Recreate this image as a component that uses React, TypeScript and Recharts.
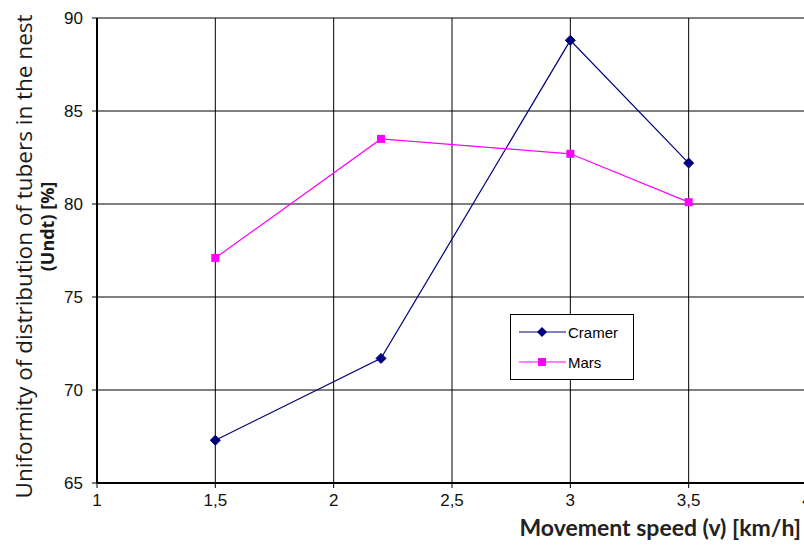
import React from "react"
import {
  LineChart,
  Line,
  XAxis,
  YAxis,
  CartesianGrid,
  Label,
} from "recharts"

// speeds (km/h) and uniformity values (%)
const speeds = [1.5, 2.2, 3, 3.5]
const cramer = [67.3, 71.7, 88.8, 82.2]
const mars = [77.1, 83.5, 82.7, 80.1]
const xTicks = [1, 1.5, 2, 2.5, 3, 3.5, 4]
const yTicks = [65, 70, 75, 80, 85, 90]

const data = speeds.map((v, i) => ({ v, cramer: cramer[i], mars: mars[i] }))

const NAVY = "#000080"
const MAGENTA = "#FF00FF"

const Diamond = (props: any) => {
  const { cx, cy } = props
  if (cx == null || cy == null) return null
  const r = 5
  return (
    <polygon
      key={`d-${cx}`}
      points={`${cx},${cy - r} ${cx + r},${cy} ${cx},${cy + r} ${cx - r},${cy}`}
      fill={NAVY}
      stroke={NAVY}
    />
  )
}

const Square = (props: any) => {
  const { cx, cy } = props
  if (cx == null || cy == null) return null
  return <rect key={`s-${cx}`} x={cx - 4} y={cy - 4} width={8} height={8} fill={MAGENTA} />
}

const legendItems = [
  { name: "Cramer", color: NAVY, shape: "d" },
  { name: "Mars", color: MAGENTA, shape: "s" },
]

// legend box sits over the plot, drawn outside recharts so it takes no layout space
const LegendBox = () => (
  <div
    style={{
      position: "absolute",
      left: 510,
      top: 314,
      width: 122,
      height: 64,
      border: "1px solid #000",
      background: "#fff",
      fontFamily: "'Liberation Sans', Arial, sans-serif",
      fontSize: 15,
      color: "#000",
    }}
  >
    {legendItems.map((item, i) => (
      <div key={item.name} style={{ display: "flex", alignItems: "center", height: 30, marginTop: i === 0 ? 2 : 0 }}>
        <svg width={50} height={14} style={{ marginLeft: 7 }}>
          <line x1={1} y1={7} x2={48} y2={7} stroke={item.color} strokeWidth={1} />
          {item.shape === "d" ? (
            <polygon points="24,2 29,7 24,12 19,7" fill={item.color} />
          ) : (
            <rect x={20} y={3} width={8} height={8} fill={item.color} />
          )}
        </svg>
        <span>{item.name}</span>
      </div>
    ))}
  </div>
)

export default function App() {
  return (
    <div style={{ position: "fixed", left: 0, top: 0, width: 804, height: 545, overflow: "hidden", background: "#fff" }}>
      <LineChart
        width={820}
        height={545}
        data={data}
        margin={{ top: 18, right: 13, bottom: 0, left: 0 }}
      >
        <CartesianGrid stroke="#000" strokeWidth={1} verticalValues={xTicks} horizontalValues={yTicks} />
        <XAxis
          dataKey="v"
          type="number"
          domain={[1, 4]}
          ticks={xTicks}
          tickFormatter={(t: number) => String(t).replace(".", ",")}
          axisLine={{ stroke: "#000", strokeWidth: 2 }}
          tickLine={{ stroke: "#000" }}
          tickSize={5}
          tickMargin={6}
          height={62}
          tick={{ fill: "#111", fontSize: 17, fontFamily: "'Liberation Sans', Arial, sans-serif" }}
        >
          <Label
            content={(p: any) => {
              const vb = p.viewBox
              return (
                <text
                  x={801}
                  y={vb.y + 53}
                  textAnchor="end"
                  fill="#222"
                  fontSize={23}
                  fontWeight="bold"
                  fontFamily="Lato, 'Open Sans', sans-serif"
                >
                  Movement speed (v) [km/h]
                </text>
              )
            }}
          />
        </XAxis>
        <YAxis
          type="number"
          domain={[65, 90]}
          ticks={yTicks}
          width={97}
          axisLine={{ stroke: "#000", strokeWidth: 2 }}
          tickLine={{ stroke: "#000" }}
          tickSize={5}
          tickMargin={9}
          tick={{ fill: "#111", fontSize: 17, fontFamily: "'Liberation Sans', Arial, sans-serif" }}
        >
          <Label
            content={(p: any) => {
              const vb = p.viewBox
              const cy = vb.y + vb.height / 2
              return (
                <g>
                  <text
                    x={32}
                    y={cy + 6}
                    transform={`rotate(-90, 32, ${cy + 6})`}
                    textAnchor="middle"
                    fill="#1a1a1a"
                    fontSize={22.5}
                    fontWeight={500}
                    fontFamily="'Open Sans', sans-serif"
                  >
                    Uniformity of distribution of tubers in the nest
                  </text>
                  <text
                    x={54}
                    y={cy - 24}
                    transform={`rotate(-90, 54, ${cy - 24})`}
                    textAnchor="middle"
                    fill="#1a1a1a"
                    fontSize={18}
                    fontWeight="bold"
                    fontFamily="'Open Sans', sans-serif"
                  >
                    (Undt) [%]
                  </text>
                </g>
              )
            }}
          />
        </YAxis>
        <Line
          type="linear"
          dataKey="cramer"
          name="Cramer"
          stroke={NAVY}
          strokeWidth={1.2}
          dot={<Diamond />}
          activeDot={false}
          isAnimationActive={false}
        />
        <Line
          type="linear"
          dataKey="mars"
          name="Mars"
          stroke={MAGENTA}
          strokeWidth={1.2}
          dot={<Square />}
          activeDot={false}
          isAnimationActive={false}
        />
      </LineChart>
      <LegendBox />
    </div>
  )
}
